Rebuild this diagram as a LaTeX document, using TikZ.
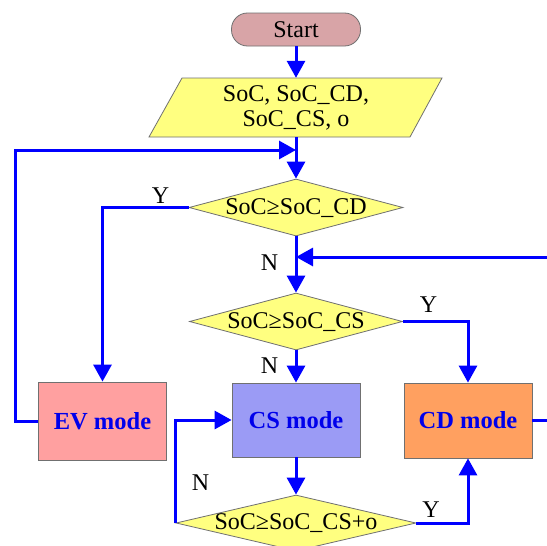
\documentclass[tikz,border=0pt]{standalone}
\usepackage{fontspec}
\setmainfont{Liberation Serif}
\usetikzlibrary{shapes.geometric,arrows.meta}
\definecolor{startfill}{HTML}{D8A4A7}
\definecolor{yel}{HTML}{FFFF80}
\definecolor{evfill}{HTML}{FFA0A0}
\definecolor{csfill}{HTML}{9B9BF5}
\definecolor{cdfill}{HTML}{FFA060}
\definecolor{bord}{HTML}{707070}
\definecolor{lineblue}{RGB}{0,0,255}
\definecolor{textblue}{RGB}{0,0,235}
\tikzset{
  basefont/.style={font=\fontsize{24}{25}\selectfont},
  startbox/.style={basefont, rectangle, rounded corners=16pt, draw=bord, line width=0.8pt,
    fill=startfill, minimum width=129pt, minimum height=33pt, inner sep=0pt},
  decision/.style={basefont, diamond, draw=bord, line width=0.8pt, fill=yel, inner sep=0pt,
    text height=14pt, text depth=1pt},
  modebox/.style={font=\fontsize{24.5}{25}\selectfont\bfseries, text=textblue, rectangle,
    draw=bord, line width=0.8pt, minimum width=128pt, minimum height=76pt, inner sep=0pt},
  pshape/.style={draw=bord, line width=0.8pt, fill=yel},
  arr/.style={draw=lineblue, line width=3pt, -{Triangle[length=17pt,width=18pt]}},
  lab/.style={basefont, anchor=base, inner sep=0pt}
}
\begin{document}
\begin{tikzpicture}[x=1pt,y=-1pt]
\fill[white] (0,0) rectangle (547,546);
\clip (0,0) rectangle (547,546);
% nodes
\node[startbox] (start) at (296,29.5) {Start};
\draw[pshape] (182,78) -- (442,78) -- (410,137) -- (149,137) -- cycle;
\node[basefont, align=center, minimum height=59pt, inner sep=0pt] (data) at (296,107.5)
  {SoC, SoC\_CD,\\SoC\_CS, o};
\node[decision, aspect=3.75, minimum width=214pt, minimum height=57pt] (d1) at (296,207.5) {SoC≥SoC\_CD};
\node[decision, aspect=3.75, minimum width=213pt, minimum height=57pt] (d2) at (296,321.5) {SoC≥SoC\_CS};
\node[decision, aspect=4.3, minimum width=240pt, minimum height=56pt] (d3) at (296,523) {SoC≥SoC\_CS+o};
\node[modebox, fill=evfill, minimum height=78pt] (ev) at (102.5,421) {EV mode};
\node[modebox, fill=csfill, minimum height=74pt] (cs) at (296,420) {CS mode};
\node[modebox, fill=cdfill, minimum height=75pt] (cd) at (468,420.5) {CD mode};
\coordinate (j1) at (296,150);
\coordinate (j2) at (296,257);
% connectors
\draw[arr] (start) -- (data);
\draw[arr] (data) -- (d1);
\draw[arr] (ev.west) -- ++(-23,0) |- (j1);
\draw[arr] (d1.west) -| (ev.north);
\draw[arr] (d1) -- (d2);
\draw[arr] (cd.east) -- ++(40,0) |- (j2);
\draw[arr] (d2) -- (cs);
\draw[arr] (d2.east) -| (cd.north);
\draw[arr] (cs) -- (d3);
\draw[arr] (d3.west) |- (cs.west);
\draw[arr] (d3.east) -| (cd.south);
% labels
\node[lab] (ly1) at (160.5,203) {Y};
\node[lab] (ln1) at (269.5,270) {N};
\node[lab] (ln2) at (269.5,373) {N};
\node[lab] (ly2) at (428.5,312) {Y};
\node[lab] (ln3) at (200.5,490) {N};
\node[lab] (ly3) at (431,517) {Y};
\end{tikzpicture}
\end{document}
